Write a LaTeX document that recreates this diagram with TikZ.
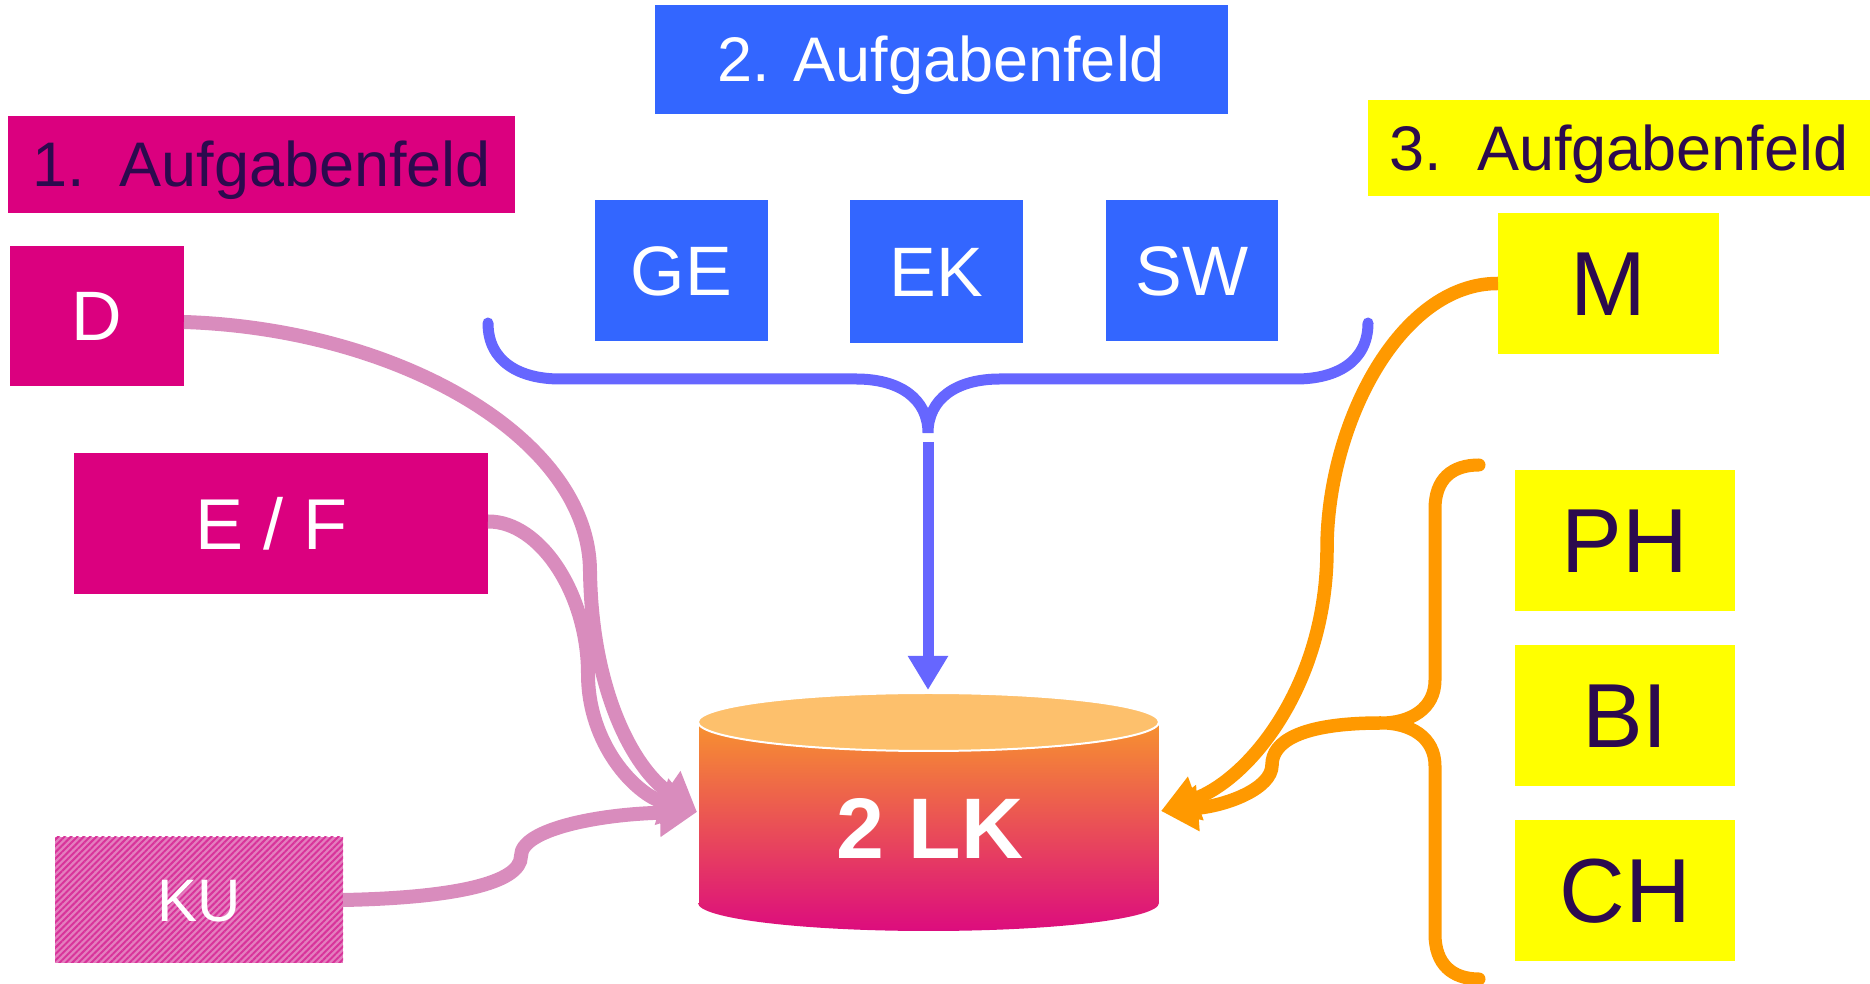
\documentclass[tikz,border=0pt]{standalone}
\usepackage{fontspec}
\setmainfont{Liberation Sans}
\usetikzlibrary{arrows.meta,patterns.meta}
\definecolor{mag}{HTML}{DB007F}
\definecolor{bbox}{HTML}{3366FF}
\definecolor{ylw}{HTML}{FFFF00}
\definecolor{dpur}{HTML}{2C0A4E}
\definecolor{pinkln}{HTML}{D98CBD}
\definecolor{blueln}{HTML}{6666FF}
\definecolor{orln}{HTML}{FF9900}
\definecolor{kubase}{HTML}{E47EBE}
\definecolor{kuline}{HTML}{D8339A}
\definecolor{cyltop}{HTML}{FDC06C}
\definecolor{cylA}{HTML}{F7922F}
\definecolor{cylB}{HTML}{DC0C7E}
\begin{document}
\begin{tikzpicture}[x=1pt,y=1pt,
  box/.style={rectangle, inner sep=0pt, outer sep=0pt, text depth=0pt},
  sA/.style={font=\fontsize{63}{70}\selectfont, text height=45pt},
  sB/.style={font=\fontsize{70}{80}\selectfont, text height=50pt},
  sE/.style={font=\fontsize{72}{80}\selectfont, text height=52pt},
  sC/.style={font=\fontsize{91}{100}\selectfont, text height=65pt},
  sD/.style={font=\fontsize{60}{70}\selectfont, text height=43pt},
  pinkarrow/.style={draw=pinkln, line width=14pt, -{Triangle[length=37pt,width=46pt]}},
  orarrow/.style={draw=orln, line width=13.5pt, -{Triangle[length=37pt,width=44pt]}},
  orline/.style={draw=orln, line width=13pt, line cap=round},
  blueline/.style={draw=blueln, line width=11pt, line cap=round},
  bluearrow/.style={draw=blueln, line width=11pt, -{Triangle[length=34pt,width=38pt]}}
]
\useasboundingbox (0,0) rectangle (1870,984);

% title boxes
\node[box, sA, fill=mag, text=dpur, minimum width=507pt, minimum height=97pt] (t1) at (261.5,819.5) {1.\ \ Aufgabenfeld};
\node[box, sA, fill=bbox, text=white, minimum width=573pt, minimum height=109pt] (t2) at (941.5,924.5) {2. Aufgabenfeld};
\node[box, sA, fill=ylw, text=dpur, minimum width=502pt, minimum height=96pt] (t3) at (1619,836) {3.\ \ Aufgabenfeld};

% subject boxes
\node[box, sB, fill=mag, text=white, minimum width=174pt, minimum height=140pt] (D) at (97,668) {D};
\node[box, fill=mag, minimum width=414pt, minimum height=141pt] (EF) at (281,460.5) {};
\node[box, sE, text=white] (EFt) at (272,460.5) {E / F};
\node[box, sD, minimum width=288pt, minimum height=126pt, text=white,
  preaction={fill=kubase}, pattern={Lines[angle=45,distance=4.5pt,line width=2pt]}, pattern color=kuline] (KU) at (199,84) {};
\node[box, sD, text=white] (KUt) at (199,84) {KU};

\node[box, sB, fill=bbox, text=white, minimum width=173pt, minimum height=141pt] (GE) at (681.5,713.5) {GE};
\node[box, sB, fill=bbox, text=white, minimum width=173pt, minimum height=143pt] (EK) at (936.5,712.5) {EK};
\node[box, sB, fill=bbox, text=white, minimum width=172pt, minimum height=141pt] (SW) at (1192,713.5) {SW};

\node[box, sC, fill=ylw, text=dpur, minimum width=221pt, minimum height=141pt] (M) at (1608.5,700.5) {M};
\node[box, sC, fill=ylw, text=dpur, minimum width=220pt, minimum height=141pt] (PH) at (1625,443.5) {PH};
\node[box, sC, fill=ylw, text=dpur, minimum width=220pt, minimum height=141pt] (BI) at (1625,268.5) {BI};
\node[box, sC, fill=ylw, text=dpur, minimum width=220pt, minimum height=141pt] (CH) at (1625,93.5) {CH};

% cylinder
\shade[top color=cylA, bottom color=cylB]
  (698,262) -- (698,81) arc[start angle=180, end angle=360, x radius=230.5pt, y radius=28pt] -- (1159,262) -- cycle;
\draw[white, line width=1pt] (698,262) -- (698,81);
\draw[white, line width=1pt] (1159,262) -- (1159,81);
\filldraw[fill=cyltop, draw=white, line width=2pt] (928.5,262) ellipse[x radius=230.5pt, y radius=29pt];
\node[box, font=\bfseries\fontsize{86}{90}\selectfont, text height=62pt, text=white] (lk) at (930,156) {2 LK};
\coordinate (lkW) at (697,172);
\coordinate (lkE) at (1161,173);

% blue brace and arrow
\coordinate (bL) at (488,661);
\coordinate (bR) at (1368,661);
\coordinate (bC) at (928,551);
\draw[blueline]
  (bL) .. controls (488,622) and (520,605) .. (560,605) -- (856,605)
  .. controls (900,605) and (928,585) .. (bC)
  .. controls (928,585) and (956,605) .. (1000,605) -- (1296,605)
  .. controls (1336,605) and (1368,622) .. (bR);
\coordinate (bS) at (928,542);
\coordinate (bT) at (928,294);
\draw[bluearrow] (bS) -- (bT);

% pink arrows
\draw[pinkarrow] ([yshift=-6pt]D.east) .. controls (400,655) and (590,545) .. (590,412)
  .. controls (592,290) and (635,215) .. (lkW);
\draw[pinkarrow] ([yshift=2pt]EF.east) .. controls (540,463) and (588,390) .. (588,310)
  .. controls (588,240) and (635,190) .. (lkW);
\draw[pinkarrow] (KU.east) .. controls (450,86) and (521,100) .. (521,128)
  .. controls (521,155) and (600,170) .. (lkW);

% orange
\draw[orarrow] (M.west) .. controls (1400,701) and (1327,560) .. (1327,435)
  .. controls (1327,300) and (1250,205) .. (lkE);
\coordinate (oT) at (1479,519);
\coordinate (oB) at (1479,5);
\coordinate (oC) at (1381,261);
\draw[orline] (oT) .. controls (1452,519) and (1435,505) .. (1435,475) -- (1435,304)
  .. controls (1435,275) and (1410,261) .. (oC)
  .. controls (1410,261) and (1435,247) .. (1435,218) -- (1435,50)
  .. controls (1435,20) and (1452,5) .. (oB);
\draw[orarrow] (oC) .. controls (1300,261) and (1272,242) .. (1272,219)
  .. controls (1272,195) and (1225,178) .. (lkE);
\end{tikzpicture}
\end{document}
